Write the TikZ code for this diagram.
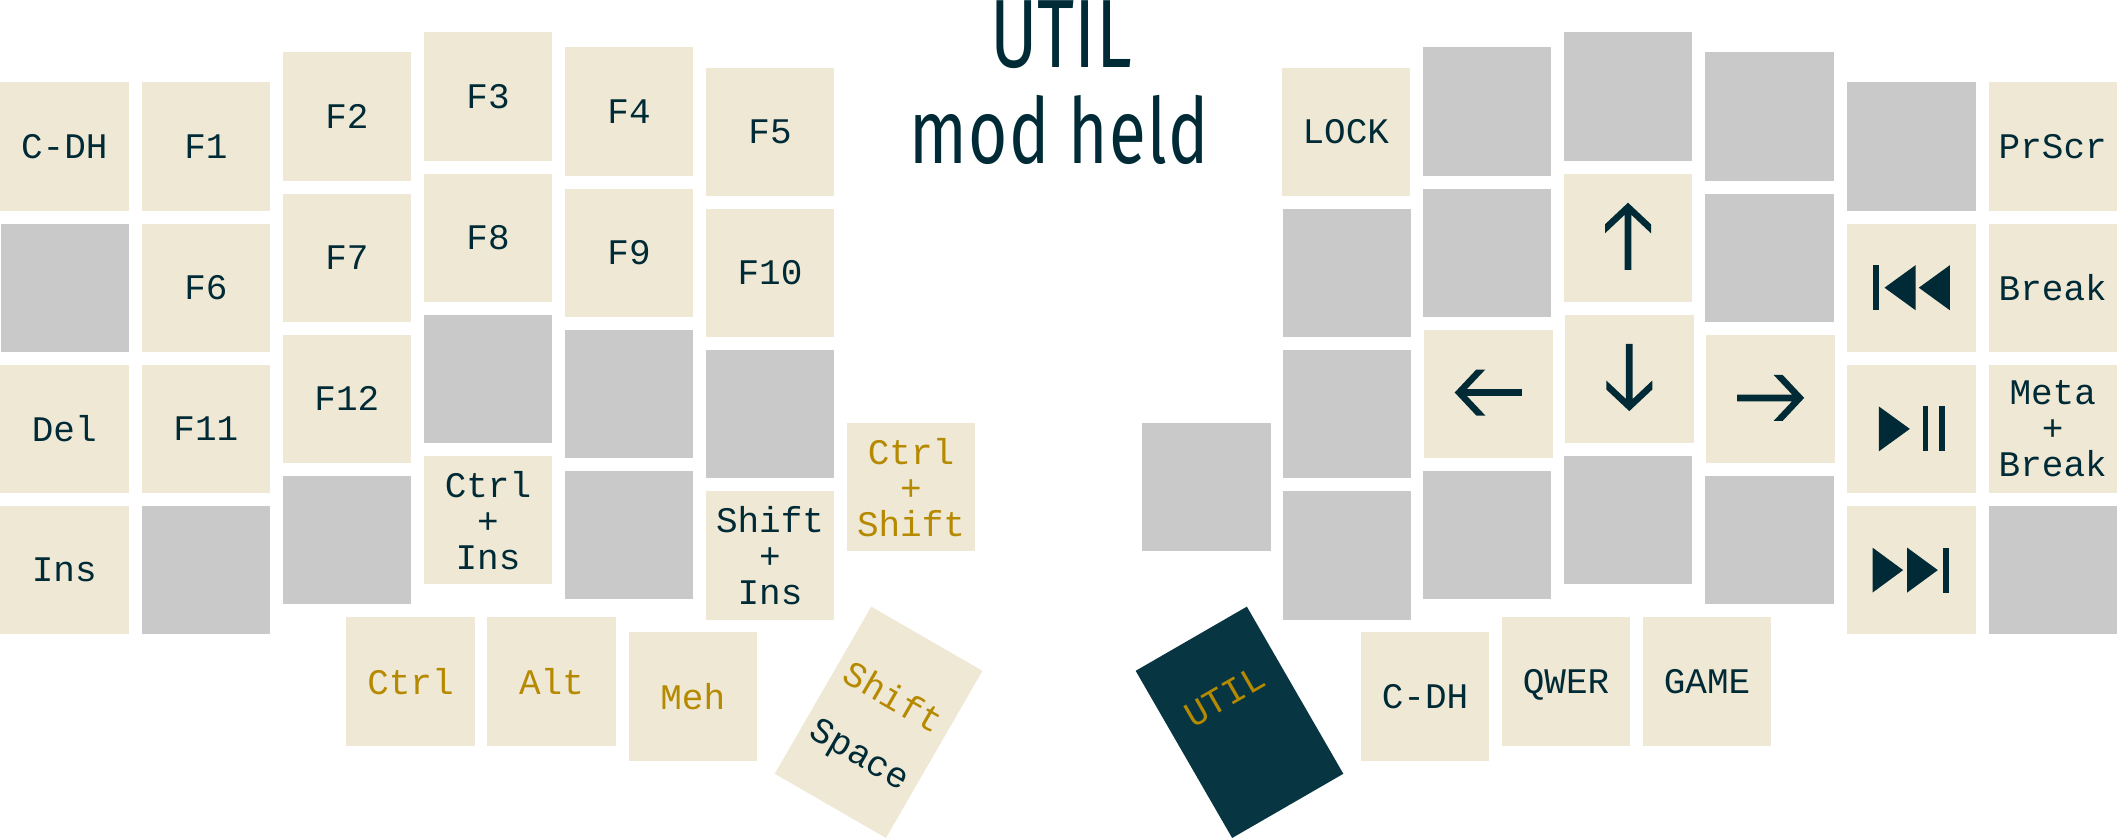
\documentclass[tikz,border=0pt]{standalone}
\usepackage{fontspec}
\setmonofont{Liberation Mono}
\newfontfamily\titlefont[FakeStretch=0.74]{Fira Sans}
\newfontfamily\subtitlefont[FakeStretch=0.74,LetterSpace=1.5]{Fira Sans}
\definecolor{keycream}{HTML}{EFE8D5}
\definecolor{keygrey}{HTML}{C9C9C9}
\definecolor{keydark}{HTML}{073642}
\definecolor{inkdark}{HTML}{002B36}
\definecolor{modgold}{HTML}{B58900}
\tikzset{
  key/.style={rectangle, inner sep=0pt, outer sep=0pt, minimum width=128.4pt, minimum height=128.4pt, fill=keycream, text=inkdark, align=center, text depth=-5pt, font=\fontsize{36}{36}\selectfont\ttfamily},
  blank/.style={key, fill=keygrey},
  mod/.style={key, text=modgold},
  tallkey/.style={minimum height=193pt},
  keytext/.style={inner sep=0pt, outer sep=0pt, text depth=0pt, font=\fontsize{36}{36}\selectfont\ttfamily},
  heading/.style={inner sep=0pt, text=inkdark, text depth=0pt, font=\fontsize{91}{91}\selectfont\subtitlefont},
  headingcaps/.style={heading, font=\fontsize{97}{97}\selectfont\titlefont},
  glyph/.style={fill=inkdark},
}
\begin{document}
\begin{tikzpicture}[x=1pt, y=-1pt]
\useasboundingbox (0,0) rectangle (2117,838);

% title
\draw (1061,67.5) node (title) [headingcaps, anchor=base] {UTIL};
\draw (1059,163) node (sub) [heading, anchor=base] {mod held};

% left hand, column by column
\draw (64.3,146.5) node (cdh) [key] {C-DH};
\draw (cdh.south) ++(0.6,12.8) node (lg1) [blank, below] {};
\draw (lg1.south) ++(-0.6,12.8) node (del) [key, below] {Del};
\draw (del.south) ++(0,12.8) node (ins) [key, below] {Ins};

\draw (205.9,146.5) node (f1) [key] {F1};
\draw (f1.south) ++(0,12.8) node (f6) [key, below] {F6};
\draw (f6.south) ++(0,12.8) node (f11) [key, below] {F11};
\draw (f11.south) ++(0,12.8) node (lg2) [blank, below] {};

\draw (346.9,116.5) node (f2) [key] {F2};
\draw (f2.south) ++(0,12.8) node (f7) [key, below] {F7};
\draw (f7.south) ++(0,12.8) node (f12) [key, below] {F12};
\draw (f12.south) ++(0,12.8) node (lg3) [blank, below] {};

\draw (488,96.5) node (f3) [key] {F3};
\draw (f3.south) ++(0,12.8) node (f8) [key, below] {F8};
\draw (f8.south) ++(0,12.8) node (lg4) [blank, below] {};
\draw (lg4.south) ++(0,12.8) node (ctrlins) [key, below] {Ctrl\\+\\Ins};

\draw (629,111.5) node (f4) [key] {F4};
\draw (f4.south) ++(0,12.8) node (f9) [key, below] {F9};
\draw (f9.south) ++(0,12.8) node (lg5) [blank, below] {};
\draw (lg5.south) ++(0,12.8) node (lg6) [blank, below] {};

\draw (770,131.7) node (f5) [key] {F5};
\draw (f5.south) ++(0,12.8) node (f10) [key, below] {F10};
\draw (f10.south) ++(0,12.8) node (lg7) [blank, below] {};
\draw (lg7.south) ++(0,12.8) node (shiftins) [key, below] {Shift\\+\\Ins};

\draw (911,487.2) node (ctrlshift) [mod] {Ctrl\\+\\Shift};

% left thumbs
\draw (410.5,681.3) node (ctrl) [mod] {Ctrl};
\draw (551.5,681.3) node (alt) [mod] {Alt};
\draw (692.7,696.3) node (meh) [mod] {Meh};
\draw (878.6,722.3) node (spc) [key, tallkey, rotate=-30] {};
\draw (spc.center) node (spchold) [keytext, text=modgold, rotate=-30, yshift=30pt] {Shift};
\draw (spc.center) node (spctap) [keytext, text=inkdark, rotate=-30, yshift=-36pt] {Space};

% right hand, column by column
\draw (1345.8,131.7) node (lock) [key] {LOCK};
\draw (lock.south) ++(1.2,12.8) node (rg1) [blank, below] {};
\draw (rg1.south) ++(0,12.8) node (rg2) [blank, below] {};
\draw (rg2.south) ++(0,12.8) node (rg3) [blank, below] {};

\draw (1487,111.5) node (rg4) [blank] {};
\draw (rg4.south) ++(0,12.8) node (rg5) [blank, below] {};
\draw (rg5.south) ++(1.3,12.8) node (left) [key, below] {};
\draw (left.south) ++(-1.3,12.8) node (rg6) [blank, below] {};

\draw (1628,96.5) node (rg7) [blank] {};
\draw (rg7.south) ++(0,12.8) node (up) [key, below] {};
\draw (up.south) ++(1.3,12.8) node (down) [key, below] {};
\draw (down.south) ++(-1.3,12.8) node (rg8) [blank, below] {};

\draw (1769.3,116.5) node (rg9) [blank] {};
\draw (rg9.south) ++(0,12.8) node (rg10) [blank, below] {};
\draw (rg10.south) ++(1.3,12.8) node (right) [key, below] {};
\draw (right.south) ++(-1.3,12.8) node (rg11) [blank, below] {};

\draw (1911.5,146.5) node (rg12) [blank] {};
\draw (rg12.south) ++(0,12.8) node (prev) [key, below] {};
\draw (prev.south) ++(0,12.8) node (play) [key, below] {};
\draw (play.south) ++(0,12.8) node (next) [key, below] {};

\draw (2052.7,146.5) node (prscr) [key] {PrScr};
\draw (prscr.south) ++(0,12.8) node (break) [key, below] {Break};
\draw (break.south) ++(0,12.8) node (metabreak) [key, below] {Meta\\+\\Break};
\draw (metabreak.south) ++(0,12.8) node (rg13) [blank, below] {};

\draw (1206.5,487.2) node (rg14) [blank] {};

% right thumbs
\draw (1239.5,722.3) node (util) [key, tallkey, fill=keydark, rotate=30] {};
\draw (util.center) node (utillbl) [keytext, text=modgold, rotate=30, yshift=30pt] {UTIL};
\draw (1425,696.3) node (cdhr) [key] {C-DH};
\draw (1566,681.3) node (qwer) [key] {QWER};
\draw (1707,681.3) node (game) [key] {GAME};

% arrows
\fill [glyph, shift={(up.center)}, yshift=1.4pt] (0,-33.6) -- (23,-12) -- (23,-3) -- (3.35,-21.5) -- (3.35,33.6) -- (-3.35,33.6) -- (-3.35,-21.5) -- (-23,-3) -- (-23,-12) -- cycle;
\fill [glyph, shift={(down.center)}, yshift=1.4pt, rotate=180] (0,-33.6) -- (23,-12) -- (23,-3) -- (3.35,-21.5) -- (3.35,33.6) -- (-3.35,33.6) -- (-3.35,-21.5) -- (-23,-3) -- (-23,-12) -- cycle;
\fill [glyph, shift={(left.center)}, yshift=1.4pt, rotate=90] (0,-33.6) -- (23,-12) -- (23,-3) -- (3.35,-21.5) -- (3.35,33.6) -- (-3.35,33.6) -- (-3.35,-21.5) -- (-23,-3) -- (-23,-12) -- cycle;
\fill [glyph, shift={(right.center)}, yshift=1pt, rotate=-90] (0,-33.6) -- (23,-12) -- (23,-3) -- (3.35,-21.5) -- (3.35,33.6) -- (-3.35,33.6) -- (-3.35,-21.5) -- (-23,-3) -- (-23,-12) -- cycle;

% media glyphs
\fill [glyph, shift={(prev.center)}] (-38.4,-22.5) rectangle (-32.4,22.5);
\fill [glyph, shift={(prev.center)}] (-27,0) -- (4,-22.5) -- (4,22.5) -- cycle;
\fill [glyph, shift={(prev.center)}] (7.3,0) -- (38.3,-22.5) -- (38.3,22.5) -- cycle;

\fill [glyph, shift={(play.center)}] (-32.7,-22.5) -- (-1.7,0) -- (-32.7,22.5) -- cycle;
\fill [glyph, shift={(play.center)}] (11,-22.5) rectangle (16.6,22.5);
\fill [glyph, shift={(play.center)}] (27.6,-22.5) rectangle (33.3,22.5);

\fill [glyph, shift={(next.center)}] (-39,-22.5) -- (-8.4,0) -- (-39,22.5) -- cycle;
\fill [glyph, shift={(next.center)}] (-4.4,-22.5) -- (26.3,0) -- (-4.4,22.5) -- cycle;
\fill [glyph, shift={(next.center)}] (31.6,-22.5) rectangle (37.3,22.5);

\end{tikzpicture}
\end{document}
